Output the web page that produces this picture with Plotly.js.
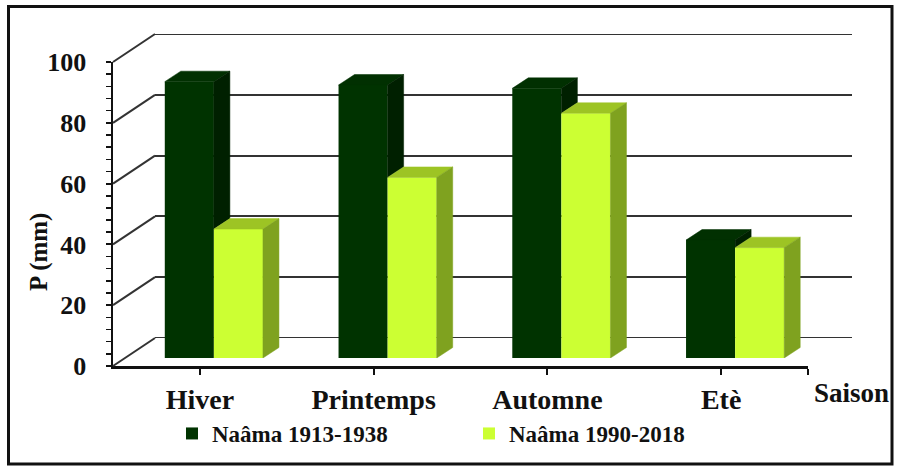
<!DOCTYPE html>
<html><head><meta charset="utf-8">
<script src="https://cdn.plot.ly/plotly-3.0.1.min.js"></script>
<style>html,body{margin:0;padding:0;background:#fff}</style>
</head><body><div id="chart" style="width:897px;height:469px"></div>
<script>
const categories = ['Hiver','Printemps','Automne','Etè'];
const seriesNames = ['Naâma 1913-1938','Naâma 1990-2018'];
const naama1913 = [90.9, 89.8, 88.7, 38.8];
const naama1990 = [42.4, 59.4, 80.5, 36.3];
const yTicks = [0,20,40,60,80,100];

const W=897,H=469;
const px = x=>x/W, py = y=>1-y/H;
const back  = {x0:155,x1:852,y0:338,y1:34};
const mid   = {x0:127,x1:822,y0:358,y1:54};
const front = {x0:113,x1:808,y0:366,y1:62};
const xr=[-0.5,3.5], yr=[0,100];

const barW = 0.2825;
const dx = 16/((mid.x1-mid.x0)/4);
const dy = 10.5/((mid.y0-mid.y1)/100);

const darkF='#003300', darkT='#013001', darkS='#002000';
const liteF='#ccff33', liteT='#9dc424', liteS='#7fa21f';
const font = (s)=>({family:'"Liberation Serif", "Times New Roman", Times, serif', size:s, color:'#111', weight:'bold'});

function poly(list){const x=[],y=[];list.forEach(p=>{p.forEach(q=>{x.push(q[0]);y.push(q[1]);});x.push(p[0][0]);y.push(p[0][1]);x.push(null);y.push(null);});return {x,y};}

const dTop=[],dSide=[],lTop=[],lSide=[];
categories.forEach((c,i)=>{
  const vD=naama1913[i], vL=naama1990[i];
  const xl=i-barW, xm=i, xe=i+barW;
  dTop.push([[xl,vD],[xm,vD],[xm+dx,vD+dy],[xl+dx,vD+dy]]);
  const base=Math.min(vL,vD);
  dSide.push([[xm,base],[xm+dx,base+dy],[xm+dx,vD+dy],[xm,vD]]);
  lTop.push([[xm,vL],[xe,vL],[xe+dx,vL+dy],[xm+dx,vL+dy]]);
  lSide.push([[xe,0],[xe+dx,dy],[xe+dx,vL+dy],[xe,vL]]);
});
function face(list,col){const p=poly(list);return {type:'scatter',x:p.x,y:p.y,xaxis:'x2',yaxis:'y2',mode:'lines',fill:'toself',fillcolor:col,line:{color:col,width:0.5},showlegend:false,hoverinfo:'skip'};}

const xIdx=categories.map((c,i)=>i);
const traces=[
  {type:'scatter',x:[],y:[],xaxis:'x',yaxis:'y',showlegend:false,hoverinfo:'skip'},
  {type:'bar',name:seriesNames[0],x:xIdx,y:naama1913,xaxis:'x2',yaxis:'y2',marker:{color:darkF,line:{width:0}}},
  {type:'bar',name:seriesNames[1],x:xIdx,y:naama1990,xaxis:'x2',yaxis:'y2',marker:{color:liteF,line:{width:0}}},
  face(dTop,darkT), face(dSide,darkS), face(lTop,liteT), face(lSide,liteS),
  {type:'scatter',x:[],y:[],xaxis:'x3',yaxis:'y3',showlegend:false,hoverinfo:'skip'}
];

const shapes=[];
yTicks.forEach(v=>{
  const yf=front.y0-(front.y0-front.y1)*v/100, yb=back.y0-(back.y0-back.y1)*v/100;
  shapes.push({type:'line',xref:'paper',yref:'paper',x0:px(front.x0),y0:py(yf),x1:px(back.x0),y1:py(yb),line:{color:'#333',width:2}});
});
[yr[0],yr[1]].forEach(v=>{
  shapes.push({type:'line',layer:'below',xref:'paper',yref:'y',x0:px(back.x0),x1:px(back.x1),y0:v,y1:v,line:{color:'#333',width:2}});
});
shapes.push({type:'rect',xref:'paper',yref:'paper',x0:px(8.5),x1:px(892),y0:py(6.5),y1:py(464),line:{color:'#111',width:3}});

const layout={
  width:W,height:H,margin:{l:0,r:0,t:0,b:0},paper_bgcolor:'#fff',plot_bgcolor:'rgba(0,0,0,0)',
  font:font(20),
  barmode:'group',bargap:1-2*barW,bargroupgap:0,
  xaxis:{domain:[px(back.x0),px(back.x1)],range:xr,anchor:'y',showgrid:false,zeroline:false,showline:false,showticklabels:false,ticks:''},
  yaxis:{domain:[py(back.y0),py(back.y1)],range:yr,anchor:'x',tickvals:yTicks,showgrid:true,gridcolor:'#333',gridwidth:2,zeroline:false,showline:false,showticklabels:false,ticks:''},
  xaxis2:{domain:[px(mid.x0),px(mid.x1)],range:xr,anchor:'y2',visible:false},
  yaxis2:{domain:[py(mid.y0),py(mid.y1)],range:yr,anchor:'x2',visible:false},
  xaxis3:{domain:[px(front.x0),px(front.x1)],range:xr,anchor:'y3',showline:true,linecolor:'#111',linewidth:2.5,
    ticks:'outside',ticklen:6,tickwidth:2,tickcolor:'#111',tickvals:[0,1,2,3,3.5],ticktext:categories.concat(['']),
    tickfont:font(28),ticklabelstandoff:1,showgrid:false,zeroline:false},
  yaxis3:{domain:[py(front.y0),py(front.y1)],range:yr,anchor:'x3',showline:true,linecolor:'#111',linewidth:2.5,
    ticks:'outside',ticklen:5,tickwidth:2,tickcolor:'#111',tickvals:yTicks,tickfont:font(26),ticklabelstandoff:14,
    minor:{dtick:4,ticks:'outside',ticklen:5,tickwidth:1.5,tickcolor:'#111',showgrid:false},
    showgrid:false,zeroline:false},
  showlegend:true,
  legend:{orientation:'h',x:px(172),y:py(412),xanchor:'left',yanchor:'top',font:font(23),entrywidth:252,entrywidthmode:'pixels',bgcolor:'rgba(0,0,0,0)',traceorder:'normal'},
  annotations:[
    {xref:'paper',yref:'paper',x:px(851),y:py(393),xanchor:'center',yanchor:'middle',text:'Saison',showarrow:false,font:font(27)},
    {xref:'paper',yref:'paper',x:px(39),y:py(252),xanchor:'center',yanchor:'middle',text:'P (mm)',textangle:-90,showarrow:false,font:font(25)}
  ],
  shapes:shapes
};
Plotly.newPlot('chart',traces,layout,{displayModeBar:false,staticPlot:true});
</script></body></html>
